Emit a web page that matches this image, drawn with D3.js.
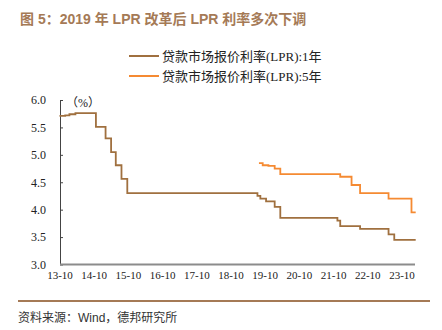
<!DOCTYPE html>
<html>
<head>
<meta charset="utf-8">
<script src="https://cdn.jsdelivr.net/npm/d3@7"></script>
<style>
  body { margin: 0; background: #fff; }
  #chart { width: 442px; height: 330px; }
</style>
</head>
<body>
<div id="chart"></div>
<script>
// 1年期 LPR 变动点（日期, 利率%）
const lpr1Dates = ["2013-10-01", "2013-12-01", "2014-01-15", "2014-03-20", "2014-10-25",
  "2015-02-05", "2015-04-05", "2015-05-25", "2015-07-25", "2015-09-25",
  "2019-07-16", "2019-08-16", "2019-10-16", "2020-01-16", "2020-03-16",
  "2021-11-16", "2021-12-16", "2022-07-16", "2023-05-16", "2023-07-16", "2024-03-01"];
const lpr1Values = [5.71, 5.72, 5.74, 5.76, 5.51,
  5.30, 5.05, 4.81, 4.56, 4.30,
  4.25, 4.20, 4.15, 4.05, 3.85,
  3.80, 3.70, 3.65, 3.55, 3.45, 3.45];

// 5年期 LPR 变动点
const lpr5Dates = ["2019-08-01", "2019-09-10", "2019-11-10", "2020-01-16", "2020-03-16",
  "2021-12-16", "2022-04-16", "2022-07-16", "2023-05-16", "2024-01-16", "2024-03-01"];
const lpr5Values = [4.85, 4.81, 4.80, 4.75, 4.65,
  4.60, 4.45, 4.30, 4.20, 3.95, 3.95];

const xTickLabels = ["13-10", "14-10", "15-10", "16-10", "17-10", "18-10",
  "19-10", "20-10", "21-10", "22-10", "23-10"];
const yTicks = [3.0, 3.5, 4.0, 4.5, 5.0, 5.5, 6.0];
const seriesNames = ["贷款市场报价利率(LPR):1年", "贷款市场报价利率(LPR):5年"];
const colors = ["#a0703f", "#f58a32"];

const parse = d3.timeParse("%Y-%m-%d");
const series = [
  lpr1Dates.map((d, i) => ({ date: parse(d), value: lpr1Values[i] })),
  lpr5Dates.map((d, i) => ({ date: parse(d), value: lpr5Values[i] }))
];

const svg = d3.select('#chart').append('svg')
  .attr('width', 442)
  .attr('height', 330);

// 标题
svg.append('text')
  .attr('x', 20)
  .attr('y', 24)
  .text('图 5：2019 年 LPR 改革后 LPR 利率多次下调')
  .style('font-family', '"Liberation Sans", "Noto Sans CJK SC", sans-serif')
  .style('font-weight', 'bold')
  .style('font-size', '14px')
  .style('fill', '#a57a56');

const x = d3.scaleTime()
  .domain([parse("2013-10-01"), parse("2024-03-01")])
  .range([59.5, 415.7]);

const y = d3.scaleLinear()
  .domain([3, 6])
  .range([264.5, 100]);

// 图例
const legend = svg.append('g').attr('class', 'legend');
seriesNames.forEach((name, i) => {
  legend.append('line')
    .attr('x1', 129).attr('x2', 159)
    .attr('y1', 56 + i * 20).attr('y2', 56 + i * 20)
    .style('stroke', colors[i])
    .style('stroke-width', 2);
  legend.append('text')
    .attr('x', 162)
    .attr('y', 60.5 + i * 20)
    .text(name)
    .style('font-family', '"Liberation Serif", "Noto Sans CJK SC", serif')
    .style('font-size', '13px')
    .style('fill', '#222');
});

// y 轴
const yAxis = svg.append('g')
  .attr('transform', 'translate(60,0)')
  .call(d3.axisLeft(y).tickValues(yTicks).tickFormat(d3.format('.1f'))
    .tickSizeInner(-3).tickSizeOuter(0).tickPadding(14));
yAxis.select('.domain').style('stroke', '#444');
yAxis.selectAll('.tick line').style('stroke', '#444');
yAxis.selectAll('text')
  .style('font-family', '"Liberation Serif", serif')
  .style('font-size', '12px')
  .style('fill', '#222');

svg.append('text')
  .attr('x', 66)
  .attr('y', 107)
  .text('（%）')
  .style('font-family', '"Liberation Serif", "Noto Sans CJK SC", serif')
  .style('font-size', '12px')
  .style('fill', '#222');

// x 轴
const xAxis = svg.append('g')
  .attr('transform', 'translate(0,264.5)')
  .call(d3.axisBottom(x)
    .tickValues(xTickLabels.map(t => parse('20' + t.slice(0, 2) + '-10-01')))
    .tickFormat(d3.timeFormat('%y-%m'))
    .tickSize(0).tickPadding(7));
xAxis.select('.domain')
  .attr('d', 'M60,0H415')
  .style('stroke', '#8c8c8c')
  .style('stroke-width', 2);
xAxis.selectAll('text')
  .style('font-family', '"Liberation Serif", serif')
  .style('font-size', '11px')
  .style('fill', '#222');

// 折线
const line = d3.line()
  .x(d => x(d.date))
  .y(d => y(d.value))
  .curve(d3.curveStepAfter);

series.forEach((s, i) => {
  svg.append('path')
    .datum(s)
    .attr('d', line)
    .style('fill', 'none')
    .style('stroke', colors[i])
    .style('stroke-width', 1.8);
});

// 底部分隔线与来源
svg.append('line')
  .attr('x1', 18).attr('x2', 430)
  .attr('y1', 301).attr('y2', 301)
  .style('stroke', '#a57a56')
  .style('stroke-width', 2);

svg.append('text')
  .attr('x', 18)
  .attr('y', 322)
  .text('资料来源：Wind，德邦研究所')
  .style('font-family', '"Liberation Sans", "Noto Sans CJK SC", sans-serif')
  .style('font-size', '12px')
  .style('fill', '#333');
</script>
</body>
</html>
